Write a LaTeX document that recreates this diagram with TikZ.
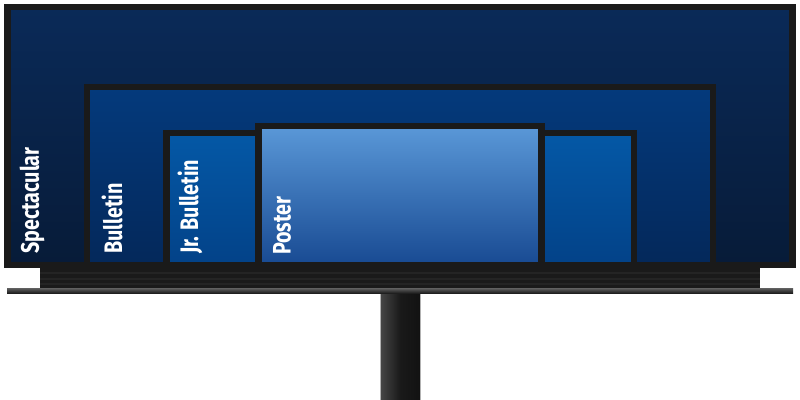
\documentclass[tikz,border=0pt]{standalone}
\usepackage{fontspec}
\newfontfamily\boardfont[FakeStretch=0.78]{Fira Sans}
\usetikzlibrary{calc}
\definecolor{rim}{RGB}{26,26,26}
\definecolor{spectop}{RGB}{10,42,88}
\definecolor{specbot}{RGB}{7,27,56}
\definecolor{bulltop}{RGB}{4,58,124}
\definecolor{bullbot}{RGB}{4,40,90}
\definecolor{jrtop}{RGB}{4,88,166}
\definecolor{jrbot}{RGB}{3,66,136}
\definecolor{postop}{RGB}{90,152,216}
\definecolor{posbot}{RGB}{24,74,146}

\begin{document}
\begin{tikzpicture}[x=0.025cm,y=-0.025cm,line width=4.3pt,
	panel/.style={draw=rim, line join=miter},
	boardlabel/.style={text=white, rotate=90, anchor=west, inner sep=0pt, font=\boardfont\bfseries\fontsize{18}{20}\selectfont}]
\useasboundingbox (0,0) rectangle (800,400);

%pole
\shade [left color=black!72, right color=black!93, middle color=black!90] (380,290) rectangle (420,400);
\draw [line width=0.4pt, gray!60] (380,293)--(380,400) (420,293)--(420,400);

%base
\fill [rim] (40,264) rectangle (760,288);
\foreach \y in {273,279,284}{
	\draw [line width=0.8pt, black!86] (40,\y)--(760,\y);
}
\shade [top color=black!62, bottom color=black!88] (7,288) rectangle (793,293);

%spectacular
\draw [panel, top color=spectop, bottom color=specbot] (7.5,7) rectangle (792.5,265);
%bulletin
\draw [panel, top color=bulltop, bottom color=bullbot] (87,87) rectangle (713,265);
%jr. bulletin
\draw [panel, top color=jrtop, bottom color=jrbot] (166.5,133) rectangle (634,265);
%poster
\draw [panel, top color=postop, bottom color=posbot] (258.5,126) rectangle (541.5,265);

\node [boardlabel] (spectacular) at (32,257) {Spectacular};
\node [boardlabel] (bulletin) at (112,257) {Bulletin};
\node [boardlabel] (jrbulletin) at (190,257) {Jr. Bulletin};
\node [boardlabel] (poster) at (282,258) {Poster};

\end{tikzpicture}
\end{document}
